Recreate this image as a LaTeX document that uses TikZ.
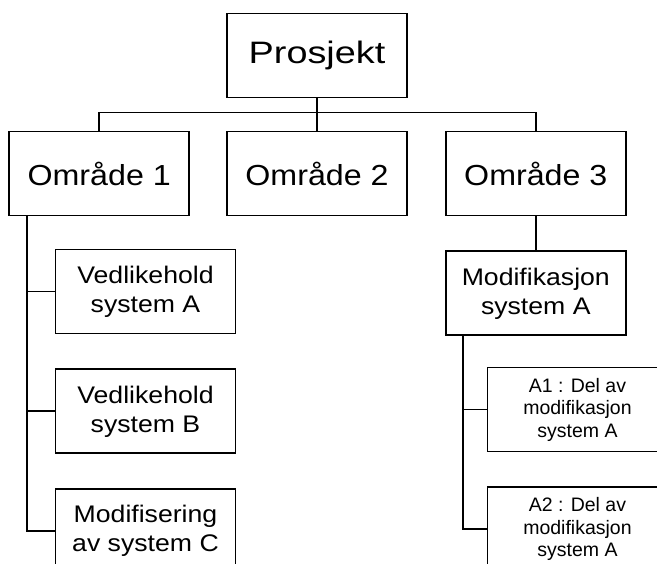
\documentclass[tikz,border=0pt]{standalone}
\usepackage{fontspec}
\setmainfont{Liberation Sans}
\newfontfamily\widefont{Liberation Sans}[FakeStretch=1.11]
\newfontfamily\widerfont{Liberation Sans}[FakeStretch=1.22]
\usetikzlibrary{positioning}

\begin{document}
\begin{tikzpicture}[
    x=1pt, y=-1pt,
    block/.style={draw, line width=1.8pt, minimum width=180pt, minimum height=84pt, inner sep=0pt, align=center, fill=white},
    top/.style={block, font=\widerfont\fontsize{31}{37}\selectfont},
    area/.style={block, font=\widefont\fontsize{29}{35}\selectfont},
    task/.style={block, font=\widefont\fontsize{24}{29}\selectfont},
    part/.style={block, font=\fontsize{19.5}{22.5}\selectfont},
    line/.style={line width=1.8pt}
]
\useasboundingbox (0,0) rectangle (657,564);
\clip (0,0) rectangle (657,564);
\node[top] (prosjekt) at (317,55.5) {Prosjekt};
\node[area] (omr2) at (317,173.5) {Område 2};
\node[area, left=36pt of omr2] (omr1) {Område 1};
\node[area, right=37pt of omr2] (omr3) {Område 3};
\node[task] (vedA) at (145.5,291.5) {Vedlikehold\\system A};
\node[task, below=34pt of vedA] (vedB) {Vedlikehold\\system B};
\node[task, below=34pt of vedB] (modC) {Modifisering\\av system C};
\node[task, below=34pt of omr3] (modA) {Modifikasjon\\system A};
\node[part] (a1) at (577.5,409.5) {A1 : Del av\\modifikasjon\\system A};
\node[part, below=34pt of a1] (a2) {A2 : Del av\\modifikasjon\\system A};
% tree lines
\draw[line] (prosjekt) -- (omr2);
\draw[line] (omr1.north) -- ++(0,-18) -| (omr3.north);
\coordinate (l1) at ([xshift=19pt]omr1.south west);
\draw[line] (l1) |- (vedA.west);
\draw[line] (l1) |- (vedB.west);
\draw[line] (l1) |- (modC.west);
\draw[line] (omr3) -- (modA);
\coordinate (r1) at ([xshift=18pt]modA.south west);
\draw[line] (r1) |- (a1.west);
\draw[line] (r1) |- (a2.west);
\end{tikzpicture}
\end{document}
